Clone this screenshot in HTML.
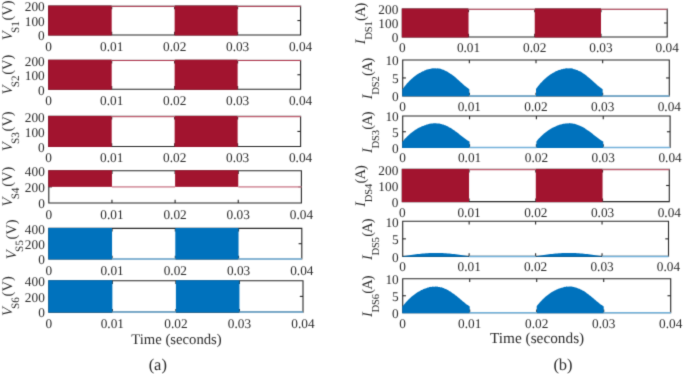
<!DOCTYPE html>
<html><head><meta charset="utf-8"><style>
html,body{margin:0;padding:0;background:#fff;}
body{width:685px;height:374px;overflow:hidden;}
svg{display:block;text-rendering:geometricPrecision;}
.t{font-family:"Liberation Serif",serif;font-size:13.3px;fill:#2b2b2b;}
.l{font-family:"Liberation Serif",serif;font-size:14.5px;fill:#2b2b2b;}
.s{font-size:11.2px;}
</style></head><body>
<svg width="685" height="374" viewBox="0 0 685 374">
<defs><filter id="soft" filterUnits="userSpaceOnUse" x="0" y="0" width="685" height="374"><feConvolveMatrix color-interpolation-filters="sRGB" order="3" kernelMatrix="0.01690 0.09620 0.01690 0.09620 0.54760 0.09620 0.01690 0.09620 0.01690" divisor="1" edgeMode="duplicate"/></filter></defs>
<g filter="url(#soft)">
<rect x="0" y="0" width="685" height="374" fill="#fff"/>
<path d="M48.70,6.10 V35.00 H300.60 V6.10 H48.70 Z" fill="none" stroke="#262626" stroke-width="1.10"/>
<line x1="111.68" y1="35.00" x2="111.68" y2="31.80" stroke="#262626" stroke-width="1.10"/>
<line x1="111.68" y1="6.10" x2="111.68" y2="9.30" stroke="#262626" stroke-width="1.10"/>
<line x1="174.65" y1="35.00" x2="174.65" y2="31.80" stroke="#262626" stroke-width="1.10"/>
<line x1="174.65" y1="6.10" x2="174.65" y2="9.30" stroke="#262626" stroke-width="1.10"/>
<line x1="237.62" y1="35.00" x2="237.62" y2="31.80" stroke="#262626" stroke-width="1.10"/>
<line x1="237.62" y1="6.10" x2="237.62" y2="9.30" stroke="#262626" stroke-width="1.10"/>
<line x1="48.70" y1="20.55" x2="51.90" y2="20.55" stroke="#262626" stroke-width="1.10"/>
<line x1="300.60" y1="20.55" x2="297.40" y2="20.55" stroke="#262626" stroke-width="1.10"/>
<rect x="48.25" y="5.65" width="63.43" height="29.80" fill="#A2142F"/>
<rect x="174.65" y="5.65" width="62.97" height="29.80" fill="#A2142F"/>
<line x1="111.68" y1="6.10" x2="174.65" y2="6.10" stroke="#fff" stroke-width="1.4"/>
<line x1="111.68" y1="6.40" x2="174.65" y2="6.40" stroke="#A2142F" stroke-width="1.00" opacity="0.85"/>
<line x1="237.62" y1="6.10" x2="300.60" y2="6.10" stroke="#fff" stroke-width="1.4"/>
<line x1="237.62" y1="6.40" x2="300.60" y2="6.40" stroke="#A2142F" stroke-width="1.00" opacity="0.85"/>
<text transform="translate(48.70,50.60) scale(1,1.000)" text-anchor="middle" class="t">0</text>
<text transform="translate(111.68,50.60) scale(1,1.000)" text-anchor="middle" class="t">0.01</text>
<text transform="translate(174.65,50.60) scale(1,1.000)" text-anchor="middle" class="t">0.02</text>
<text transform="translate(237.62,50.60) scale(1,1.000)" text-anchor="middle" class="t">0.03</text>
<text transform="translate(300.60,50.60) scale(1,1.000)" text-anchor="middle" class="t">0.04</text>
<text transform="translate(44.70,40.30) scale(1,1.000)" text-anchor="end" class="t">0</text>
<text transform="translate(44.70,25.85) scale(1,1.000)" text-anchor="end" class="t">100</text>
<text transform="translate(44.70,11.40) scale(1,1.000)" text-anchor="end" class="t">200</text>
<text transform="translate(12.00,40.25) rotate(-90)" class="l" font-style="italic">V</text>
<text transform="translate(19.00,33.05) rotate(-90)" class="l s" letter-spacing="0.0" style="font-size:11.2px">S1</text>
<text transform="translate(12.00,20.55) rotate(-90)" class="l" letter-spacing="0.0">(V)</text>
<path d="M48.70,60.20 V89.30 H300.60 V60.20 H48.70 Z" fill="none" stroke="#262626" stroke-width="1.10"/>
<line x1="111.68" y1="89.30" x2="111.68" y2="86.10" stroke="#262626" stroke-width="1.10"/>
<line x1="111.68" y1="60.20" x2="111.68" y2="63.40" stroke="#262626" stroke-width="1.10"/>
<line x1="174.65" y1="89.30" x2="174.65" y2="86.10" stroke="#262626" stroke-width="1.10"/>
<line x1="174.65" y1="60.20" x2="174.65" y2="63.40" stroke="#262626" stroke-width="1.10"/>
<line x1="237.62" y1="89.30" x2="237.62" y2="86.10" stroke="#262626" stroke-width="1.10"/>
<line x1="237.62" y1="60.20" x2="237.62" y2="63.40" stroke="#262626" stroke-width="1.10"/>
<line x1="48.70" y1="74.75" x2="51.90" y2="74.75" stroke="#262626" stroke-width="1.10"/>
<line x1="300.60" y1="74.75" x2="297.40" y2="74.75" stroke="#262626" stroke-width="1.10"/>
<rect x="48.25" y="59.75" width="63.43" height="30.00" fill="#A2142F"/>
<rect x="174.65" y="59.75" width="62.97" height="30.00" fill="#A2142F"/>
<line x1="111.68" y1="60.20" x2="174.65" y2="60.20" stroke="#fff" stroke-width="1.4"/>
<line x1="111.68" y1="60.50" x2="174.65" y2="60.50" stroke="#A2142F" stroke-width="1.00" opacity="0.85"/>
<line x1="237.62" y1="60.20" x2="300.60" y2="60.20" stroke="#fff" stroke-width="1.4"/>
<line x1="237.62" y1="60.50" x2="300.60" y2="60.50" stroke="#A2142F" stroke-width="1.00" opacity="0.85"/>
<text transform="translate(48.70,104.90) scale(1,1.000)" text-anchor="middle" class="t">0</text>
<text transform="translate(111.68,104.90) scale(1,1.000)" text-anchor="middle" class="t">0.01</text>
<text transform="translate(174.65,104.90) scale(1,1.000)" text-anchor="middle" class="t">0.02</text>
<text transform="translate(237.62,104.90) scale(1,1.000)" text-anchor="middle" class="t">0.03</text>
<text transform="translate(300.60,104.90) scale(1,1.000)" text-anchor="middle" class="t">0.04</text>
<text transform="translate(44.70,94.60) scale(1,1.000)" text-anchor="end" class="t">0</text>
<text transform="translate(44.70,80.05) scale(1,1.000)" text-anchor="end" class="t">100</text>
<text transform="translate(44.70,65.50) scale(1,1.000)" text-anchor="end" class="t">200</text>
<text transform="translate(12.00,94.45) rotate(-90)" class="l" font-style="italic">V</text>
<text transform="translate(19.00,87.25) rotate(-90)" class="l s" letter-spacing="0.0" style="font-size:11.2px">S2</text>
<text transform="translate(12.00,74.75) rotate(-90)" class="l" letter-spacing="0.0">(V)</text>
<path d="M48.70,116.40 V146.50 H300.60 V116.40 H48.70 Z" fill="none" stroke="#262626" stroke-width="1.10"/>
<line x1="111.68" y1="146.50" x2="111.68" y2="143.30" stroke="#262626" stroke-width="1.10"/>
<line x1="111.68" y1="116.40" x2="111.68" y2="119.60" stroke="#262626" stroke-width="1.10"/>
<line x1="174.65" y1="146.50" x2="174.65" y2="143.30" stroke="#262626" stroke-width="1.10"/>
<line x1="174.65" y1="116.40" x2="174.65" y2="119.60" stroke="#262626" stroke-width="1.10"/>
<line x1="237.62" y1="146.50" x2="237.62" y2="143.30" stroke="#262626" stroke-width="1.10"/>
<line x1="237.62" y1="116.40" x2="237.62" y2="119.60" stroke="#262626" stroke-width="1.10"/>
<line x1="48.70" y1="131.45" x2="51.90" y2="131.45" stroke="#262626" stroke-width="1.10"/>
<line x1="300.60" y1="131.45" x2="297.40" y2="131.45" stroke="#262626" stroke-width="1.10"/>
<rect x="48.25" y="115.95" width="63.43" height="31.00" fill="#A2142F"/>
<rect x="174.65" y="115.95" width="62.97" height="31.00" fill="#A2142F"/>
<line x1="111.68" y1="116.40" x2="174.65" y2="116.40" stroke="#fff" stroke-width="1.4"/>
<line x1="111.68" y1="116.70" x2="174.65" y2="116.70" stroke="#A2142F" stroke-width="1.00" opacity="0.85"/>
<line x1="237.62" y1="116.40" x2="300.60" y2="116.40" stroke="#fff" stroke-width="1.4"/>
<line x1="237.62" y1="116.70" x2="300.60" y2="116.70" stroke="#A2142F" stroke-width="1.00" opacity="0.85"/>
<text transform="translate(48.70,162.10) scale(1,1.000)" text-anchor="middle" class="t">0</text>
<text transform="translate(111.68,162.10) scale(1,1.000)" text-anchor="middle" class="t">0.01</text>
<text transform="translate(174.65,162.10) scale(1,1.000)" text-anchor="middle" class="t">0.02</text>
<text transform="translate(237.62,162.10) scale(1,1.000)" text-anchor="middle" class="t">0.03</text>
<text transform="translate(300.60,162.10) scale(1,1.000)" text-anchor="middle" class="t">0.04</text>
<text transform="translate(44.70,151.80) scale(1,1.000)" text-anchor="end" class="t">0</text>
<text transform="translate(44.70,136.75) scale(1,1.000)" text-anchor="end" class="t">100</text>
<text transform="translate(44.70,121.70) scale(1,1.000)" text-anchor="end" class="t">200</text>
<text transform="translate(12.00,151.15) rotate(-90)" class="l" font-style="italic">V</text>
<text transform="translate(19.00,143.95) rotate(-90)" class="l s" letter-spacing="0.0" style="font-size:11.2px">S3</text>
<text transform="translate(12.00,131.45) rotate(-90)" class="l" letter-spacing="0.0">(V)</text>
<path d="M48.80,170.70 V203.00 H301.40 V170.70 H48.80 Z" fill="none" stroke="#262626" stroke-width="1.10"/>
<line x1="111.95" y1="203.00" x2="111.95" y2="199.80" stroke="#262626" stroke-width="1.10"/>
<line x1="111.95" y1="170.70" x2="111.95" y2="173.90" stroke="#262626" stroke-width="1.10"/>
<line x1="175.10" y1="203.00" x2="175.10" y2="199.80" stroke="#262626" stroke-width="1.10"/>
<line x1="175.10" y1="170.70" x2="175.10" y2="173.90" stroke="#262626" stroke-width="1.10"/>
<line x1="238.25" y1="203.00" x2="238.25" y2="199.80" stroke="#262626" stroke-width="1.10"/>
<line x1="238.25" y1="170.70" x2="238.25" y2="173.90" stroke="#262626" stroke-width="1.10"/>
<line x1="48.80" y1="186.85" x2="52.00" y2="186.85" stroke="#262626" stroke-width="1.10"/>
<line x1="301.40" y1="186.85" x2="298.20" y2="186.85" stroke="#262626" stroke-width="1.10"/>
<rect x="48.35" y="170.25" width="63.60" height="16.60" fill="#A2142F"/>
<rect x="175.10" y="170.25" width="63.15" height="16.60" fill="#A2142F"/>
<line x1="111.95" y1="186.85" x2="175.10" y2="186.85" stroke="#fff" stroke-width="1.4"/>
<line x1="111.95" y1="186.85" x2="175.10" y2="186.85" stroke="#A2142F" stroke-width="1.60" opacity="0.42"/>
<line x1="238.25" y1="186.85" x2="301.40" y2="186.85" stroke="#fff" stroke-width="1.4"/>
<line x1="238.25" y1="186.85" x2="301.40" y2="186.85" stroke="#A2142F" stroke-width="1.60" opacity="0.42"/>
<text transform="translate(48.80,218.60) scale(1,1.000)" text-anchor="middle" class="t">0</text>
<text transform="translate(111.95,218.60) scale(1,1.000)" text-anchor="middle" class="t">0.01</text>
<text transform="translate(175.10,218.60) scale(1,1.000)" text-anchor="middle" class="t">0.02</text>
<text transform="translate(238.25,218.60) scale(1,1.000)" text-anchor="middle" class="t">0.03</text>
<text transform="translate(301.40,218.60) scale(1,1.000)" text-anchor="middle" class="t">0.04</text>
<text transform="translate(44.80,208.30) scale(1,1.000)" text-anchor="end" class="t">0</text>
<text transform="translate(44.80,192.15) scale(1,1.000)" text-anchor="end" class="t">200</text>
<text transform="translate(44.80,176.00) scale(1,1.000)" text-anchor="end" class="t">400</text>
<text transform="translate(12.00,206.55) rotate(-90)" class="l" font-style="italic">V</text>
<text transform="translate(19.00,199.35) rotate(-90)" class="l s" letter-spacing="0.0" style="font-size:11.2px">S4</text>
<text transform="translate(12.00,186.85) rotate(-90)" class="l" letter-spacing="0.0">(V)</text>
<path d="M48.80,228.40 V259.00 H301.80 V228.40 H48.80 Z" fill="none" stroke="#262626" stroke-width="1.10"/>
<line x1="112.05" y1="259.00" x2="112.05" y2="255.80" stroke="#262626" stroke-width="1.10"/>
<line x1="112.05" y1="228.40" x2="112.05" y2="231.60" stroke="#262626" stroke-width="1.10"/>
<line x1="175.30" y1="259.00" x2="175.30" y2="255.80" stroke="#262626" stroke-width="1.10"/>
<line x1="175.30" y1="228.40" x2="175.30" y2="231.60" stroke="#262626" stroke-width="1.10"/>
<line x1="238.55" y1="259.00" x2="238.55" y2="255.80" stroke="#262626" stroke-width="1.10"/>
<line x1="238.55" y1="228.40" x2="238.55" y2="231.60" stroke="#262626" stroke-width="1.10"/>
<line x1="48.80" y1="243.70" x2="52.00" y2="243.70" stroke="#262626" stroke-width="1.10"/>
<line x1="301.80" y1="243.70" x2="298.60" y2="243.70" stroke="#262626" stroke-width="1.10"/>
<rect x="48.35" y="227.95" width="63.70" height="31.50" fill="#0072BD"/>
<rect x="175.30" y="227.95" width="63.25" height="31.50" fill="#0072BD"/>
<line x1="112.05" y1="259.00" x2="175.30" y2="259.00" stroke="#fff" stroke-width="1.4"/>
<line x1="112.05" y1="259.00" x2="175.30" y2="259.00" stroke="#0072BD" stroke-width="1.50" opacity="0.55"/>
<line x1="238.55" y1="259.00" x2="301.80" y2="259.00" stroke="#fff" stroke-width="1.4"/>
<line x1="238.55" y1="259.00" x2="301.80" y2="259.00" stroke="#0072BD" stroke-width="1.50" opacity="0.55"/>
<text transform="translate(48.80,274.60) scale(1,1.000)" text-anchor="middle" class="t">0</text>
<text transform="translate(112.05,274.60) scale(1,1.000)" text-anchor="middle" class="t">0.01</text>
<text transform="translate(175.30,274.60) scale(1,1.000)" text-anchor="middle" class="t">0.02</text>
<text transform="translate(238.55,274.60) scale(1,1.000)" text-anchor="middle" class="t">0.03</text>
<text transform="translate(301.80,274.60) scale(1,1.000)" text-anchor="middle" class="t">0.04</text>
<text transform="translate(44.80,264.30) scale(1,1.000)" text-anchor="end" class="t">0</text>
<text transform="translate(44.80,249.00) scale(1,1.000)" text-anchor="end" class="t">200</text>
<text transform="translate(44.80,233.70) scale(1,1.000)" text-anchor="end" class="t">400</text>
<text transform="translate(15.60,259.20) rotate(-90)" class="l" font-style="italic">V</text>
<text transform="translate(22.60,252.00) rotate(-90)" class="l s" letter-spacing="0.0" style="font-size:11.2px">S5</text>
<text transform="translate(15.60,239.50) rotate(-90)" class="l" letter-spacing="0.0">(V)</text>
<path d="M48.80,280.70 V312.10 H303.00 V280.70 H48.80 Z" fill="none" stroke="#262626" stroke-width="1.10"/>
<line x1="112.35" y1="312.10" x2="112.35" y2="308.90" stroke="#262626" stroke-width="1.10"/>
<line x1="112.35" y1="280.70" x2="112.35" y2="283.90" stroke="#262626" stroke-width="1.10"/>
<line x1="175.90" y1="312.10" x2="175.90" y2="308.90" stroke="#262626" stroke-width="1.10"/>
<line x1="175.90" y1="280.70" x2="175.90" y2="283.90" stroke="#262626" stroke-width="1.10"/>
<line x1="239.45" y1="312.10" x2="239.45" y2="308.90" stroke="#262626" stroke-width="1.10"/>
<line x1="239.45" y1="280.70" x2="239.45" y2="283.90" stroke="#262626" stroke-width="1.10"/>
<line x1="48.80" y1="296.40" x2="52.00" y2="296.40" stroke="#262626" stroke-width="1.10"/>
<line x1="303.00" y1="296.40" x2="299.80" y2="296.40" stroke="#262626" stroke-width="1.10"/>
<rect x="48.35" y="280.25" width="64.00" height="32.30" fill="#0072BD"/>
<rect x="175.90" y="280.25" width="63.55" height="32.30" fill="#0072BD"/>
<line x1="112.35" y1="312.10" x2="175.90" y2="312.10" stroke="#fff" stroke-width="1.4"/>
<line x1="112.35" y1="312.10" x2="175.90" y2="312.10" stroke="#0072BD" stroke-width="1.50" opacity="0.55"/>
<line x1="239.45" y1="312.10" x2="303.00" y2="312.10" stroke="#fff" stroke-width="1.4"/>
<line x1="239.45" y1="312.10" x2="303.00" y2="312.10" stroke="#0072BD" stroke-width="1.50" opacity="0.55"/>
<text transform="translate(48.80,327.70) scale(1,1.000)" text-anchor="middle" class="t">0</text>
<text transform="translate(112.35,327.70) scale(1,1.000)" text-anchor="middle" class="t">0.01</text>
<text transform="translate(175.90,327.70) scale(1,1.000)" text-anchor="middle" class="t">0.02</text>
<text transform="translate(239.45,327.70) scale(1,1.000)" text-anchor="middle" class="t">0.03</text>
<text transform="translate(303.00,327.70) scale(1,1.000)" text-anchor="middle" class="t">0.04</text>
<text transform="translate(44.80,317.40) scale(1,1.000)" text-anchor="end" class="t">0</text>
<text transform="translate(44.80,301.70) scale(1,1.000)" text-anchor="end" class="t">200</text>
<text transform="translate(44.80,286.00) scale(1,1.000)" text-anchor="end" class="t">400</text>
<text transform="translate(12.00,316.10) rotate(-90)" class="l" font-style="italic">V</text>
<text transform="translate(19.00,308.90) rotate(-90)" class="l s" letter-spacing="0.0" style="font-size:11.2px">S6</text>
<text transform="translate(12.00,296.40) rotate(-90)" class="l" letter-spacing="0.0">(V)</text>
<path d="M402.30,9.00 V37.00 H667.20 V9.00 H402.30 Z" fill="none" stroke="#262626" stroke-width="1.10"/>
<line x1="468.53" y1="37.00" x2="468.53" y2="33.80" stroke="#262626" stroke-width="1.10"/>
<line x1="468.53" y1="9.00" x2="468.53" y2="12.20" stroke="#262626" stroke-width="1.10"/>
<line x1="534.75" y1="37.00" x2="534.75" y2="33.80" stroke="#262626" stroke-width="1.10"/>
<line x1="534.75" y1="9.00" x2="534.75" y2="12.20" stroke="#262626" stroke-width="1.10"/>
<line x1="600.98" y1="37.00" x2="600.98" y2="33.80" stroke="#262626" stroke-width="1.10"/>
<line x1="600.98" y1="9.00" x2="600.98" y2="12.20" stroke="#262626" stroke-width="1.10"/>
<line x1="402.30" y1="23.00" x2="405.50" y2="23.00" stroke="#262626" stroke-width="1.10"/>
<line x1="667.20" y1="23.00" x2="664.00" y2="23.00" stroke="#262626" stroke-width="1.10"/>
<rect x="401.85" y="8.55" width="66.68" height="28.90" fill="#A2142F"/>
<rect x="534.75" y="8.55" width="66.23" height="28.90" fill="#A2142F"/>
<line x1="468.53" y1="9.00" x2="534.75" y2="9.00" stroke="#fff" stroke-width="1.4"/>
<line x1="468.53" y1="9.30" x2="534.75" y2="9.30" stroke="#A2142F" stroke-width="1.00" opacity="0.85"/>
<line x1="600.98" y1="9.00" x2="667.20" y2="9.00" stroke="#fff" stroke-width="1.4"/>
<line x1="600.98" y1="9.30" x2="667.20" y2="9.30" stroke="#A2142F" stroke-width="1.00" opacity="0.85"/>
<text transform="translate(402.30,51.90) scale(1,1.000)" text-anchor="middle" class="t">0</text>
<text transform="translate(468.53,51.90) scale(1,1.000)" text-anchor="middle" class="t">0.01</text>
<text transform="translate(534.75,51.90) scale(1,1.000)" text-anchor="middle" class="t">0.02</text>
<text transform="translate(600.98,51.90) scale(1,1.000)" text-anchor="middle" class="t">0.03</text>
<text transform="translate(667.20,51.90) scale(1,1.000)" text-anchor="middle" class="t">0.04</text>
<text transform="translate(398.30,42.30) scale(1,1.000)" text-anchor="end" class="t">0</text>
<text transform="translate(398.30,28.30) scale(1,1.000)" text-anchor="end" class="t">100</text>
<text transform="translate(398.30,14.30) scale(1,1.000)" text-anchor="end" class="t">200</text>
<text transform="translate(365.00,44.20) rotate(-90)" class="l" font-style="italic">I</text>
<text transform="translate(372.00,39.70) rotate(-90)" class="l s" letter-spacing="-0.2" style="font-size:10.6px">DS1</text>
<text transform="translate(365.00,21.00) rotate(-90)" class="l" letter-spacing="-0.9">(A)</text>
<path d="M402.70,60.00 V95.90 H669.30 V60.00 H402.70 Z" fill="none" stroke="#262626" stroke-width="1.10"/>
<line x1="469.35" y1="95.90" x2="469.35" y2="92.70" stroke="#262626" stroke-width="1.10"/>
<line x1="469.35" y1="60.00" x2="469.35" y2="63.20" stroke="#262626" stroke-width="1.10"/>
<line x1="536.00" y1="95.90" x2="536.00" y2="92.70" stroke="#262626" stroke-width="1.10"/>
<line x1="536.00" y1="60.00" x2="536.00" y2="63.20" stroke="#262626" stroke-width="1.10"/>
<line x1="602.65" y1="95.90" x2="602.65" y2="92.70" stroke="#262626" stroke-width="1.10"/>
<line x1="602.65" y1="60.00" x2="602.65" y2="63.20" stroke="#262626" stroke-width="1.10"/>
<line x1="402.70" y1="77.95" x2="405.90" y2="77.95" stroke="#262626" stroke-width="1.10"/>
<line x1="669.30" y1="77.95" x2="666.10" y2="77.95" stroke="#262626" stroke-width="1.10"/>
<polygon points="402.25,96.35 402.25,89.01 402.70,89.01 403.37,88.07 404.03,87.17 404.70,86.30 405.37,85.46 406.03,84.66 406.70,83.87 407.37,83.12 408.03,82.39 408.70,81.68 409.37,81.00 410.03,80.34 410.70,79.71 411.36,79.09 412.03,78.49 412.70,77.91 413.36,77.35 414.03,76.81 414.70,76.29 415.36,75.78 416.03,75.30 416.70,74.82 417.36,74.37 418.03,73.93 418.70,73.50 419.36,73.10 420.03,72.90 420.70,72.40 421.36,72.11 422.03,71.67 422.69,71.33 423.36,71.24 424.03,70.96 424.69,70.35 425.36,70.32 426.03,70.08 426.69,69.54 427.36,69.53 428.03,69.19 428.69,69.15 429.36,68.91 430.03,68.96 430.69,68.64 431.36,68.43 432.03,68.47 432.69,68.31 433.36,68.28 434.03,68.48 434.69,68.19 435.36,68.25 436.02,68.39 436.69,68.54 437.36,68.27 438.02,68.50 438.69,68.50 439.36,68.56 440.02,68.77 440.69,68.85 441.36,69.24 442.02,69.28 442.69,69.65 443.36,69.70 444.02,69.98 444.69,70.58 445.36,70.87 446.02,71.17 446.69,71.22 447.36,71.79 448.02,72.10 448.69,72.63 449.35,72.98 450.02,73.46 450.69,73.94 451.35,74.32 452.02,74.81 452.69,75.19 453.35,75.80 454.02,76.23 454.69,76.81 455.35,77.32 456.02,77.99 456.69,78.57 457.35,79.15 458.02,79.75 458.69,80.35 459.35,80.95 460.02,81.56 460.69,82.16 461.35,82.77 462.02,83.37 462.68,83.96 463.35,84.55 464.02,85.13 464.68,85.70 465.35,86.26 466.02,86.80 466.68,87.32 467.35,87.82 468.02,88.29 468.68,88.74 469.35,89.16 469.35,96.35" fill="#0072BD"/>
<polygon points="536.00,96.35 536.00,89.01 536.67,88.07 537.33,87.17 538.00,86.30 538.67,85.46 539.33,84.66 540.00,83.87 540.67,83.12 541.33,82.39 542.00,81.68 542.66,81.00 543.33,80.34 544.00,79.71 544.66,79.09 545.33,78.49 546.00,77.91 546.66,77.35 547.33,76.81 548.00,76.29 548.66,75.78 549.33,75.30 550.00,74.82 550.66,74.37 551.33,73.93 552.00,73.50 552.66,73.10 553.33,72.73 554.00,72.55 554.66,71.91 555.33,71.53 555.99,71.22 556.66,71.04 557.33,70.68 557.99,70.60 558.66,70.09 559.33,69.94 559.99,69.82 560.66,69.69 561.33,69.18 561.99,68.94 562.66,69.13 563.33,68.70 563.99,68.73 564.66,68.72 565.33,68.56 565.99,68.30 566.66,68.20 567.33,68.49 567.99,68.25 568.66,68.47 569.32,68.22 569.99,68.42 570.66,68.26 571.32,68.30 571.99,68.59 572.66,68.51 573.32,68.93 573.99,69.18 574.66,69.16 575.32,69.58 575.99,69.74 576.66,69.91 577.32,70.09 577.99,70.56 578.66,70.91 579.32,70.91 579.99,71.47 580.66,71.59 581.32,71.99 581.99,72.60 582.65,72.99 583.32,73.41 583.99,73.82 584.65,74.31 585.32,74.82 585.99,75.30 586.65,75.70 587.32,76.40 587.99,76.98 588.65,77.42 589.32,77.99 589.99,78.57 590.65,79.15 591.32,79.75 591.99,80.35 592.65,80.95 593.32,81.56 593.99,82.16 594.65,82.77 595.32,83.37 595.98,83.96 596.65,84.55 597.32,85.13 597.98,85.70 598.65,86.26 599.32,86.80 599.98,87.32 600.65,87.82 601.32,88.29 601.98,88.74 602.65,89.16 602.65,96.35" fill="#0072BD"/>
<line x1="469.35" y1="95.90" x2="536.00" y2="95.90" stroke="#fff" stroke-width="1.4"/>
<line x1="469.35" y1="95.90" x2="536.00" y2="95.90" stroke="#0072BD" stroke-width="1.50" opacity="0.55"/>
<line x1="602.65" y1="95.90" x2="669.30" y2="95.90" stroke="#fff" stroke-width="1.4"/>
<line x1="602.65" y1="95.90" x2="669.30" y2="95.90" stroke="#0072BD" stroke-width="1.50" opacity="0.55"/>
<text transform="translate(402.70,110.80) scale(1,1.000)" text-anchor="middle" class="t">0</text>
<text transform="translate(469.35,110.80) scale(1,1.000)" text-anchor="middle" class="t">0.01</text>
<text transform="translate(536.00,110.80) scale(1,1.000)" text-anchor="middle" class="t">0.02</text>
<text transform="translate(602.65,110.80) scale(1,1.000)" text-anchor="middle" class="t">0.03</text>
<text transform="translate(669.30,110.80) scale(1,1.000)" text-anchor="middle" class="t">0.04</text>
<text transform="translate(398.70,101.20) scale(1,1.000)" text-anchor="end" class="t">0</text>
<text transform="translate(398.70,83.25) scale(1,1.000)" text-anchor="end" class="t">5</text>
<text transform="translate(398.70,65.30) scale(1,1.000)" text-anchor="end" class="t">10</text>
<text transform="translate(372.00,99.15) rotate(-90)" class="l" font-style="italic">I</text>
<text transform="translate(379.00,94.65) rotate(-90)" class="l s" letter-spacing="-0.2" style="font-size:10.6px">DS2</text>
<text transform="translate(372.00,75.95) rotate(-90)" class="l" letter-spacing="-0.9">(A)</text>
<path d="M402.70,116.00 V147.50 H670.10 V116.00 H402.70 Z" fill="none" stroke="#262626" stroke-width="1.10"/>
<line x1="469.55" y1="147.50" x2="469.55" y2="144.30" stroke="#262626" stroke-width="1.10"/>
<line x1="469.55" y1="116.00" x2="469.55" y2="119.20" stroke="#262626" stroke-width="1.10"/>
<line x1="536.40" y1="147.50" x2="536.40" y2="144.30" stroke="#262626" stroke-width="1.10"/>
<line x1="536.40" y1="116.00" x2="536.40" y2="119.20" stroke="#262626" stroke-width="1.10"/>
<line x1="603.25" y1="147.50" x2="603.25" y2="144.30" stroke="#262626" stroke-width="1.10"/>
<line x1="603.25" y1="116.00" x2="603.25" y2="119.20" stroke="#262626" stroke-width="1.10"/>
<line x1="402.70" y1="131.75" x2="405.90" y2="131.75" stroke="#262626" stroke-width="1.10"/>
<line x1="670.10" y1="131.75" x2="666.90" y2="131.75" stroke="#262626" stroke-width="1.10"/>
<polygon points="402.25,147.95 402.25,141.45 402.70,141.45 403.37,140.63 404.04,139.84 404.71,139.08 405.37,138.34 406.04,137.63 406.71,136.95 407.38,136.29 408.05,135.65 408.72,135.03 409.38,134.43 410.05,133.85 410.72,133.29 411.39,132.75 412.06,132.22 412.73,131.72 413.40,131.23 414.06,130.75 414.73,130.29 415.40,129.85 416.07,129.42 416.74,129.01 417.41,128.61 418.08,128.22 418.74,127.85 419.41,127.49 420.08,127.32 420.75,126.96 421.42,126.41 422.09,126.27 422.75,125.97 423.42,125.88 424.09,125.48 424.76,125.17 425.43,125.13 426.10,124.71 426.77,124.50 427.43,124.51 428.10,124.13 428.77,124.03 429.44,123.81 430.11,123.79 430.78,123.55 431.45,123.44 432.11,123.61 432.78,123.53 433.45,123.26 434.12,123.13 434.79,123.36 435.46,123.29 436.12,123.26 436.79,123.39 437.46,123.43 438.13,123.51 438.80,123.58 439.47,123.61 440.14,123.84 440.80,123.95 441.47,123.97 442.14,124.41 442.81,124.42 443.48,124.58 444.15,124.96 444.82,125.24 445.48,125.31 446.15,125.79 446.82,126.11 447.49,126.35 448.16,126.59 448.83,127.15 449.50,127.45 450.16,127.83 450.83,128.06 451.50,128.61 452.17,128.90 452.84,129.58 453.51,129.98 454.17,130.34 454.84,130.74 455.51,131.38 456.18,131.78 456.85,132.29 457.52,132.81 458.19,133.33 458.85,133.85 459.52,134.38 460.19,134.91 460.86,135.45 461.53,135.98 462.20,136.50 462.87,137.03 463.53,137.54 464.20,138.05 464.87,138.55 465.54,139.04 466.21,139.51 466.88,139.97 467.54,140.41 468.21,140.82 468.88,141.22 469.55,141.58 469.55,147.95" fill="#0072BD"/>
<polygon points="536.40,147.95 536.40,141.45 537.07,140.63 537.74,139.84 538.41,139.08 539.07,138.34 539.74,137.63 540.41,136.95 541.08,136.29 541.75,135.65 542.42,135.03 543.09,134.43 543.75,133.85 544.42,133.29 545.09,132.75 545.76,132.22 546.43,131.72 547.10,131.23 547.76,130.75 548.43,130.29 549.10,129.85 549.77,129.42 550.44,129.01 551.11,128.61 551.78,128.22 552.44,127.85 553.11,127.49 553.78,127.32 554.45,127.03 555.12,126.57 555.79,126.38 556.45,125.88 557.12,125.59 557.79,125.56 558.46,125.28 559.13,124.86 559.80,124.70 560.47,124.44 561.13,124.41 561.80,124.31 562.47,124.09 563.14,123.77 563.81,123.82 564.48,123.68 565.15,123.55 565.81,123.47 566.48,123.41 567.15,123.18 567.82,123.41 568.49,123.45 569.16,123.12 569.83,123.16 570.49,123.16 571.16,123.40 571.83,123.29 572.50,123.39 573.17,123.74 573.84,123.68 574.50,123.79 575.17,124.01 575.84,124.24 576.51,124.52 577.18,124.71 577.85,124.99 578.52,125.29 579.18,125.38 579.85,125.77 580.52,125.90 581.19,126.48 581.86,126.52 582.53,126.95 583.19,127.24 583.86,127.64 584.53,128.04 585.20,128.57 585.87,129.19 586.54,129.38 587.21,130.04 587.87,130.46 588.54,130.82 589.21,131.36 589.88,131.78 590.55,132.29 591.22,132.81 591.89,133.33 592.55,133.85 593.22,134.38 593.89,134.91 594.56,135.45 595.23,135.98 595.90,136.50 596.57,137.03 597.23,137.54 597.90,138.05 598.57,138.55 599.24,139.04 599.91,139.51 600.58,139.97 601.24,140.41 601.91,140.82 602.58,141.22 603.25,141.58 603.25,147.95" fill="#0072BD"/>
<line x1="469.55" y1="147.50" x2="536.40" y2="147.50" stroke="#fff" stroke-width="1.4"/>
<line x1="469.55" y1="147.50" x2="536.40" y2="147.50" stroke="#0072BD" stroke-width="1.50" opacity="0.55"/>
<line x1="603.25" y1="147.50" x2="670.10" y2="147.50" stroke="#fff" stroke-width="1.4"/>
<line x1="603.25" y1="147.50" x2="670.10" y2="147.50" stroke="#0072BD" stroke-width="1.50" opacity="0.55"/>
<text transform="translate(402.70,162.40) scale(1,1.000)" text-anchor="middle" class="t">0</text>
<text transform="translate(469.55,162.40) scale(1,1.000)" text-anchor="middle" class="t">0.01</text>
<text transform="translate(536.40,162.40) scale(1,1.000)" text-anchor="middle" class="t">0.02</text>
<text transform="translate(603.25,162.40) scale(1,1.000)" text-anchor="middle" class="t">0.03</text>
<text transform="translate(670.10,162.40) scale(1,1.000)" text-anchor="middle" class="t">0.04</text>
<text transform="translate(398.70,152.80) scale(1,1.000)" text-anchor="end" class="t">0</text>
<text transform="translate(398.70,137.05) scale(1,1.000)" text-anchor="end" class="t">5</text>
<text transform="translate(398.70,121.30) scale(1,1.000)" text-anchor="end" class="t">10</text>
<text transform="translate(372.00,152.95) rotate(-90)" class="l" font-style="italic">I</text>
<text transform="translate(379.00,148.45) rotate(-90)" class="l s" letter-spacing="-0.2" style="font-size:10.6px">DS3</text>
<text transform="translate(372.00,129.75) rotate(-90)" class="l" letter-spacing="-0.9">(A)</text>
<path d="M402.30,169.40 V201.60 H669.30 V169.40 H402.30 Z" fill="none" stroke="#262626" stroke-width="1.10"/>
<line x1="469.05" y1="201.60" x2="469.05" y2="198.40" stroke="#262626" stroke-width="1.10"/>
<line x1="469.05" y1="169.40" x2="469.05" y2="172.60" stroke="#262626" stroke-width="1.10"/>
<line x1="535.80" y1="201.60" x2="535.80" y2="198.40" stroke="#262626" stroke-width="1.10"/>
<line x1="535.80" y1="169.40" x2="535.80" y2="172.60" stroke="#262626" stroke-width="1.10"/>
<line x1="602.55" y1="201.60" x2="602.55" y2="198.40" stroke="#262626" stroke-width="1.10"/>
<line x1="602.55" y1="169.40" x2="602.55" y2="172.60" stroke="#262626" stroke-width="1.10"/>
<line x1="402.30" y1="185.50" x2="405.50" y2="185.50" stroke="#262626" stroke-width="1.10"/>
<line x1="669.30" y1="185.50" x2="666.10" y2="185.50" stroke="#262626" stroke-width="1.10"/>
<rect x="401.85" y="168.95" width="67.20" height="33.10" fill="#A2142F"/>
<rect x="535.80" y="168.95" width="66.75" height="33.10" fill="#A2142F"/>
<line x1="469.05" y1="169.40" x2="535.80" y2="169.40" stroke="#fff" stroke-width="1.4"/>
<line x1="469.05" y1="169.70" x2="535.80" y2="169.70" stroke="#A2142F" stroke-width="1.00" opacity="0.85"/>
<line x1="602.55" y1="169.40" x2="669.30" y2="169.40" stroke="#fff" stroke-width="1.4"/>
<line x1="602.55" y1="169.70" x2="669.30" y2="169.70" stroke="#A2142F" stroke-width="1.00" opacity="0.85"/>
<text transform="translate(402.30,216.50) scale(1,1.000)" text-anchor="middle" class="t">0</text>
<text transform="translate(469.05,216.50) scale(1,1.000)" text-anchor="middle" class="t">0.01</text>
<text transform="translate(535.80,216.50) scale(1,1.000)" text-anchor="middle" class="t">0.02</text>
<text transform="translate(602.55,216.50) scale(1,1.000)" text-anchor="middle" class="t">0.03</text>
<text transform="translate(669.30,216.50) scale(1,1.000)" text-anchor="middle" class="t">0.04</text>
<text transform="translate(398.30,206.90) scale(1,1.000)" text-anchor="end" class="t">0</text>
<text transform="translate(398.30,190.80) scale(1,1.000)" text-anchor="end" class="t">100</text>
<text transform="translate(398.30,174.70) scale(1,1.000)" text-anchor="end" class="t">200</text>
<text transform="translate(365.00,206.70) rotate(-90)" class="l" font-style="italic">I</text>
<text transform="translate(372.00,202.20) rotate(-90)" class="l s" letter-spacing="-0.2" style="font-size:10.6px">DS4</text>
<text transform="translate(365.00,183.50) rotate(-90)" class="l" letter-spacing="-0.9">(A)</text>
<path d="M402.70,221.30 V256.40 H668.50 V221.30 H402.70 Z" fill="none" stroke="#262626" stroke-width="1.10"/>
<line x1="469.15" y1="256.40" x2="469.15" y2="253.20" stroke="#262626" stroke-width="1.10"/>
<line x1="469.15" y1="221.30" x2="469.15" y2="224.50" stroke="#262626" stroke-width="1.10"/>
<line x1="535.60" y1="256.40" x2="535.60" y2="253.20" stroke="#262626" stroke-width="1.10"/>
<line x1="535.60" y1="221.30" x2="535.60" y2="224.50" stroke="#262626" stroke-width="1.10"/>
<line x1="602.05" y1="256.40" x2="602.05" y2="253.20" stroke="#262626" stroke-width="1.10"/>
<line x1="602.05" y1="221.30" x2="602.05" y2="224.50" stroke="#262626" stroke-width="1.10"/>
<line x1="402.70" y1="238.85" x2="405.90" y2="238.85" stroke="#262626" stroke-width="1.10"/>
<line x1="668.50" y1="238.85" x2="665.30" y2="238.85" stroke="#262626" stroke-width="1.10"/>
<polygon points="402.25,256.85 402.25,256.40 402.70,256.40 404.36,256.12 406.02,255.85 407.68,255.58 409.34,255.32 411.01,255.06 412.67,254.81 414.33,254.57 415.99,254.34 417.65,254.12 419.31,253.92 420.97,253.73 422.63,253.56 424.30,253.41 425.96,253.27 427.62,253.16 429.28,253.06 430.94,252.99 432.60,252.93 434.26,252.90 435.93,252.89 437.59,252.90 439.25,252.93 440.91,252.99 442.57,253.06 444.23,253.16 445.89,253.27 447.55,253.41 449.21,253.56 450.88,253.73 452.54,253.92 454.20,254.12 455.86,254.34 457.52,254.57 459.18,254.81 460.84,255.06 462.50,255.32 464.17,255.58 465.83,255.85 467.49,256.12 469.15,256.40 469.15,256.85" fill="#0072BD"/>
<polygon points="535.60,256.85 535.60,256.40 537.26,256.12 538.92,255.85 540.58,255.58 542.25,255.32 543.91,255.06 545.57,254.81 547.23,254.57 548.89,254.34 550.55,254.12 552.21,253.92 553.87,253.73 555.53,253.56 557.20,253.41 558.86,253.27 560.52,253.16 562.18,253.06 563.84,252.99 565.50,252.93 567.16,252.90 568.83,252.89 570.49,252.90 572.15,252.93 573.81,252.99 575.47,253.06 577.13,253.16 578.79,253.27 580.45,253.41 582.12,253.56 583.78,253.73 585.44,253.92 587.10,254.12 588.76,254.34 590.42,254.57 592.08,254.81 593.74,255.06 595.40,255.32 597.07,255.58 598.73,255.85 600.39,256.12 602.05,256.40 602.05,256.85" fill="#0072BD"/>
<line x1="469.15" y1="256.40" x2="535.60" y2="256.40" stroke="#fff" stroke-width="1.4"/>
<line x1="469.15" y1="256.40" x2="535.60" y2="256.40" stroke="#0072BD" stroke-width="1.50" opacity="0.55"/>
<line x1="602.05" y1="256.40" x2="668.50" y2="256.40" stroke="#fff" stroke-width="1.4"/>
<line x1="602.05" y1="256.40" x2="668.50" y2="256.40" stroke="#0072BD" stroke-width="1.50" opacity="0.55"/>
<text transform="translate(402.70,271.30) scale(1,1.000)" text-anchor="middle" class="t">0</text>
<text transform="translate(469.15,271.30) scale(1,1.000)" text-anchor="middle" class="t">0.01</text>
<text transform="translate(535.60,271.30) scale(1,1.000)" text-anchor="middle" class="t">0.02</text>
<text transform="translate(602.05,271.30) scale(1,1.000)" text-anchor="middle" class="t">0.03</text>
<text transform="translate(668.50,271.30) scale(1,1.000)" text-anchor="middle" class="t">0.04</text>
<text transform="translate(398.70,261.70) scale(1,1.000)" text-anchor="end" class="t">0</text>
<text transform="translate(398.70,244.15) scale(1,1.000)" text-anchor="end" class="t">5</text>
<text transform="translate(398.70,226.60) scale(1,1.000)" text-anchor="end" class="t">10</text>
<text transform="translate(372.00,260.05) rotate(-90)" class="l" font-style="italic">I</text>
<text transform="translate(379.00,255.55) rotate(-90)" class="l s" letter-spacing="-0.2" style="font-size:10.6px">DS5</text>
<text transform="translate(372.00,236.85) rotate(-90)" class="l" letter-spacing="-0.9">(A)</text>
<path d="M402.70,278.70 V312.80 H670.70 V278.70 H402.70 Z" fill="none" stroke="#262626" stroke-width="1.10"/>
<line x1="469.70" y1="312.80" x2="469.70" y2="309.60" stroke="#262626" stroke-width="1.10"/>
<line x1="469.70" y1="278.70" x2="469.70" y2="281.90" stroke="#262626" stroke-width="1.10"/>
<line x1="536.70" y1="312.80" x2="536.70" y2="309.60" stroke="#262626" stroke-width="1.10"/>
<line x1="536.70" y1="278.70" x2="536.70" y2="281.90" stroke="#262626" stroke-width="1.10"/>
<line x1="603.70" y1="312.80" x2="603.70" y2="309.60" stroke="#262626" stroke-width="1.10"/>
<line x1="603.70" y1="278.70" x2="603.70" y2="281.90" stroke="#262626" stroke-width="1.10"/>
<line x1="402.70" y1="295.75" x2="405.90" y2="295.75" stroke="#262626" stroke-width="1.10"/>
<line x1="670.70" y1="295.75" x2="667.50" y2="295.75" stroke="#262626" stroke-width="1.10"/>
<polygon points="402.25,313.25 402.25,306.25 402.70,306.25 403.37,305.37 404.04,304.51 404.71,303.68 405.38,302.89 406.05,302.12 406.72,301.38 407.39,300.66 408.06,299.97 408.73,299.30 409.40,298.65 410.07,298.02 410.74,297.42 411.41,296.83 412.08,296.26 412.75,295.71 413.42,295.18 414.09,294.67 414.76,294.17 415.43,293.69 416.10,293.23 416.77,292.78 417.44,292.35 418.11,291.93 418.78,291.53 419.45,291.14 420.12,290.89 420.79,290.33 421.46,290.11 422.13,289.88 422.80,289.60 423.47,289.08 424.14,288.94 424.81,288.56 425.48,288.46 426.15,288.28 426.82,287.94 427.49,287.62 428.16,287.68 428.83,287.27 429.50,287.06 430.17,286.96 430.84,286.83 431.51,287.03 432.18,286.71 432.85,286.55 433.52,286.80 434.19,286.68 434.86,286.66 435.53,286.56 436.20,286.62 436.87,286.64 437.54,286.58 438.21,286.95 438.88,287.03 439.55,287.11 440.22,287.25 440.89,287.42 441.56,287.26 442.23,287.50 442.90,288.00 443.57,288.07 444.24,288.40 444.91,288.67 445.58,288.94 446.25,289.14 446.92,289.50 447.59,289.93 448.26,290.36 448.93,290.69 449.60,291.17 450.27,291.43 450.94,291.80 451.61,292.38 452.28,292.96 452.95,293.40 453.62,293.82 454.29,294.24 454.96,294.70 455.63,295.38 456.30,295.79 456.97,296.34 457.64,296.89 458.31,297.46 458.98,298.03 459.65,298.60 460.32,299.17 460.99,299.75 461.66,300.32 462.33,300.90 463.00,301.46 463.67,302.02 464.34,302.57 465.01,303.12 465.68,303.64 466.35,304.15 467.02,304.65 467.69,305.12 468.36,305.57 469.03,306.00 469.70,306.39 469.70,313.25" fill="#0072BD"/>
<polygon points="536.70,313.25 536.70,306.25 537.37,305.37 538.04,304.51 538.71,303.68 539.38,302.89 540.05,302.12 540.72,301.38 541.39,300.66 542.06,299.97 542.73,299.30 543.40,298.65 544.07,298.02 544.74,297.42 545.41,296.83 546.08,296.26 546.75,295.71 547.42,295.18 548.09,294.67 548.76,294.17 549.43,293.69 550.10,293.23 550.77,292.78 551.44,292.35 552.11,291.93 552.78,291.53 553.45,291.14 554.12,290.74 554.79,290.45 555.46,290.18 556.13,289.87 556.80,289.51 557.47,289.14 558.14,288.96 558.81,288.59 559.48,288.42 560.15,288.27 560.82,287.94 561.49,287.67 562.16,287.71 562.83,287.41 563.50,287.25 564.17,286.94 564.84,286.79 565.51,286.89 566.18,286.61 566.85,286.58 567.52,286.72 568.19,286.61 568.86,286.72 569.53,286.46 570.20,286.53 570.87,286.49 571.54,286.58 572.21,286.70 572.88,286.77 573.55,286.95 574.22,287.26 574.89,287.23 575.56,287.62 576.23,287.76 576.90,287.74 577.57,288.24 578.24,288.48 578.91,288.75 579.58,288.75 580.25,289.32 580.92,289.71 581.59,289.75 582.26,290.38 582.93,290.50 583.60,290.96 584.27,291.32 584.94,291.71 585.61,292.30 586.28,292.69 586.95,293.45 587.62,293.67 588.29,294.28 588.96,294.72 589.63,295.48 590.30,295.79 590.97,296.34 591.64,296.89 592.31,297.46 592.98,298.03 593.65,298.60 594.32,299.17 594.99,299.75 595.66,300.32 596.33,300.90 597.00,301.46 597.67,302.02 598.34,302.57 599.01,303.12 599.68,303.64 600.35,304.15 601.02,304.65 601.69,305.12 602.36,305.57 603.03,306.00 603.70,306.39 603.70,313.25" fill="#0072BD"/>
<line x1="469.70" y1="312.80" x2="536.70" y2="312.80" stroke="#fff" stroke-width="1.4"/>
<line x1="469.70" y1="312.80" x2="536.70" y2="312.80" stroke="#0072BD" stroke-width="1.50" opacity="0.55"/>
<line x1="603.70" y1="312.80" x2="670.70" y2="312.80" stroke="#fff" stroke-width="1.4"/>
<line x1="603.70" y1="312.80" x2="670.70" y2="312.80" stroke="#0072BD" stroke-width="1.50" opacity="0.55"/>
<text transform="translate(402.70,327.70) scale(1,1.000)" text-anchor="middle" class="t">0</text>
<text transform="translate(469.70,327.70) scale(1,1.000)" text-anchor="middle" class="t">0.01</text>
<text transform="translate(536.70,327.70) scale(1,1.000)" text-anchor="middle" class="t">0.02</text>
<text transform="translate(603.70,327.70) scale(1,1.000)" text-anchor="middle" class="t">0.03</text>
<text transform="translate(670.70,327.70) scale(1,1.000)" text-anchor="middle" class="t">0.04</text>
<text transform="translate(398.70,318.10) scale(1,1.000)" text-anchor="end" class="t">0</text>
<text transform="translate(398.70,301.05) scale(1,1.000)" text-anchor="end" class="t">5</text>
<text transform="translate(398.70,284.00) scale(1,1.000)" text-anchor="end" class="t">10</text>
<text transform="translate(372.00,316.95) rotate(-90)" class="l" font-style="italic">I</text>
<text transform="translate(379.00,312.45) rotate(-90)" class="l s" letter-spacing="-0.2" style="font-size:10.6px">DS6</text>
<text transform="translate(372.00,293.75) rotate(-90)" class="l" letter-spacing="-0.9">(A)</text>
<text x="176.5" y="343.5" text-anchor="middle" class="l" style="font-size:14.7px">Time (seconds)</text>
<text x="157.8" y="369.9" text-anchor="middle" class="l" style="font-size:16.5px">(a)</text>
<text x="537.1" y="343.3" text-anchor="middle" class="l" style="font-size:15.3px">Time (seconds)</text>
<text x="563" y="369.9" text-anchor="middle" class="l" style="font-size:16.5px">(b)</text>
</g>
</svg>
</body></html>
